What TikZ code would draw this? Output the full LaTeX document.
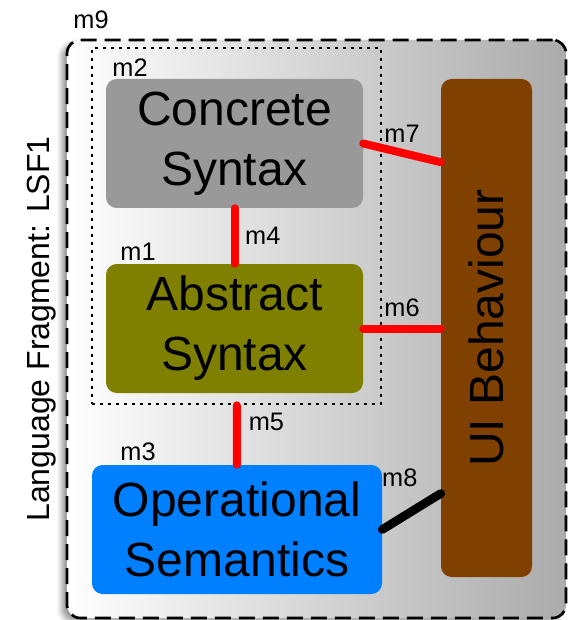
\documentclass[tikz,border=0pt]{standalone}
\usepackage{fontspec}
\setmainfont{Liberation Sans}
\usetikzlibrary{positioning, shadows.blur}

\definecolor{csgray}{HTML}{999999}
\definecolor{asolive}{HTML}{808000}
\definecolor{osblue}{HTML}{0080FF}
\definecolor{uibrown}{HTML}{804000}

\tikzset{
  part/.style={rectangle, rounded corners=8pt, align=center, inner sep=0pt,
    font=\fontsize{36}{45}\selectfont},
  tag/.style={font=\fontsize{19}{22}\selectfont, inner sep=2pt},
  redlink/.style={draw=red, line width=6pt, line cap=round},
  blacklink/.style={draw=black, line width=6.5pt, line cap=round}
}

\begin{document}
\begin{tikzpicture}[x=0.75pt, y=-0.75pt]
    \useasboundingbox (0,0) rectangle (568,620);

    \node [rectangle, rounded corners=10pt, draw, line width=2pt,
           dash pattern=on 12pt off 6pt, left color=white, right color=black!33,
           minimum width=374.25pt, minimum height=433.5pt,
           blur shadow={shadow xshift=-4pt, shadow yshift=-3pt, shadow blur radius=4pt}]
           (lsf) at (316.5,329) {};
    \node [rectangle, draw, line width=2pt, dash pattern=on 2pt off 4pt,
           minimum width=216.75pt, minimum height=267pt] (grp) at (236.5,226) {};

    \node [part, fill=csgray, minimum width=192.75pt, minimum height=96.75pt] (cs) at (234.5,143.5) {Concrete\\Syntax};
    \node [part, fill=asolive, minimum width=192.75pt, minimum height=96.75pt] (as) at (234.5,328.5) {Abstract\\Syntax};
    \node [part, fill=osblue, minimum width=217.5pt, minimum height=96.75pt] (os) at (237,529.5) {Operational\\Semantics};
    \node [part, fill=uibrown, minimum width=68.25pt, minimum height=373.5pt] (ui) at (486.5,328) {\rotatebox{90}{UI Behaviour}};

 \path[redlink]
      (cs) edge node[tag, right=3pt] {m4} (as)
      (grp) edge node[tag, pos=.28, right=4pt] {m5} (os)
      (as) edge node[tag, above=4pt] {m6} (as -| ui.west)
      (cs.east) edge node[tag, above=2.5pt] {m7} ([yshift=-14pt]cs.east -| ui.west);
 \path[blacklink]
      (os.east) edge node[tag, pos=.3, above=19pt] {m8} ([yshift=27pt]os.east -| ui.west);

    \node [tag] (m9) at (91,20) {m9};
    \node [tag] (m2) at (130,68) {m2};
    \node [tag] (m1) at (138,252) {m1};
    \node [tag] (m3) at (138,452) {m3};
    \node [rotate=90, font=\fontsize{24}{28}\selectfont] (lang) at (41.5,329) {Language Fragment: LSF1};
\end{tikzpicture}
\end{document}
